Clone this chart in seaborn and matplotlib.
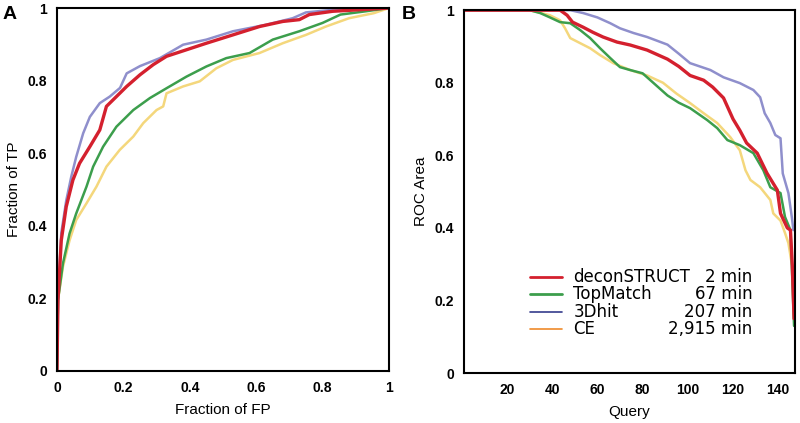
import matplotlib
matplotlib.use("Agg")
import matplotlib.pyplot as plt
import seaborn as sns
import pandas as pd
from matplotlib.ticker import FuncFormatter

sns.set_theme(style="white")
plt.rcParams['font.family'] = ['Liberation Sans', 'DejaVu Sans']
plt.rcParams['text.color'] = 'black'
plt.rcParams['axes.labelcolor'] = 'black'
plt.rcParams['xtick.color'] = 'black'
plt.rcParams['ytick.color'] = 'black'

# ---------------- Panel A data: ROC curves (fraction FP, fraction TP) -------------
fp_3dhit = [0, 0.003, 0.013, 0.028, 0.043, 0.058, 0.079, 0.099, 0.129, 0.159, 0.19, 0.21, 0.25, 0.31, 0.38, 0.45, 0.53, 0.63, 0.71, 0.75, 0.83, 1.0]
tp_3dhit = [0, 0.195, 0.38, 0.47, 0.535, 0.59, 0.655, 0.70, 0.738, 0.756, 0.78, 0.82, 0.84, 0.862, 0.899, 0.913, 0.936, 0.954, 0.972, 0.988, 0.995, 1.0]

fp_decon = [0, 0.003, 0.013, 0.028, 0.048, 0.068, 0.099, 0.129, 0.149, 0.179, 0.21, 0.25, 0.29, 0.33, 0.39, 0.45, 0.53, 0.61, 0.68, 0.73, 0.76, 0.83, 1.0]
tp_decon = [0, 0.195, 0.36, 0.453, 0.526, 0.572, 0.618, 0.664, 0.729, 0.756, 0.784, 0.816, 0.844, 0.867, 0.885, 0.903, 0.926, 0.949, 0.963, 0.968, 0.982, 0.991, 1.0]

fp_topm = [0, 0.003, 0.018, 0.038, 0.058, 0.089, 0.109, 0.139, 0.179, 0.23, 0.28, 0.33, 0.39, 0.45, 0.51, 0.58, 0.65, 0.73, 0.80, 0.854, 0.93, 1.0]
tp_topm = [0, 0.195, 0.296, 0.379, 0.434, 0.508, 0.563, 0.618, 0.673, 0.719, 0.752, 0.779, 0.811, 0.839, 0.862, 0.876, 0.913, 0.936, 0.959, 0.982, 0.991, 1.0]

fp_ce = [0, 0.003, 0.018, 0.038, 0.058, 0.089, 0.119, 0.149, 0.189, 0.23, 0.26, 0.30, 0.32, 0.33, 0.38, 0.43, 0.48, 0.53, 0.61, 0.68, 0.75, 0.81, 0.88, 0.955, 1.0]
tp_ce = [0, 0.195, 0.287, 0.36, 0.416, 0.462, 0.508, 0.563, 0.609, 0.646, 0.683, 0.719, 0.729, 0.765, 0.784, 0.798, 0.834, 0.857, 0.876, 0.903, 0.926, 0.949, 0.972, 0.986, 1.0]

# ---------------- Panel B data: sorted ROC area per query -------------
q_decon = [1, 43.5, 46.6, 49, 53.7, 58, 62.5, 68.7, 74.5, 82, 91, 96, 101, 107, 111, 115.8, 120, 123, 126, 130.7, 135, 139.6, 141, 144, 145.4, 146.2, 147]
roc_decon = [1.0, 1.0, 0.986, 0.967, 0.953, 0.939, 0.926, 0.912, 0.904, 0.89, 0.865, 0.845, 0.82, 0.807, 0.788, 0.758, 0.70, 0.669, 0.634, 0.606, 0.551, 0.504, 0.44, 0.40, 0.394, 0.30, 0.15]

q_3dhit = [1, 48, 53.7, 60, 65.7, 70, 76, 82, 91, 96, 101, 110, 115.8, 123, 129, 132, 134, 136.5, 138.7, 141, 142, 144.5, 146, 146.7]
roc_3dhit = [1.0, 1.0, 0.992, 0.98, 0.964, 0.95, 0.937, 0.926, 0.905, 0.88, 0.854, 0.835, 0.815, 0.799, 0.78, 0.76, 0.716, 0.689, 0.656, 0.647, 0.55, 0.496, 0.43, 0.394]

q_topm = [1, 30, 34.7, 39, 43.5, 48, 52.4, 56.8, 61.2, 65.7, 70, 74.5, 80, 84.7, 91, 96, 101, 108.6, 113, 117.5, 123, 129, 133.4, 136.5, 141, 143, 145.4, 147]
roc_topm = [1.0, 1.0, 0.992, 0.98, 0.967, 0.964, 0.945, 0.923, 0.895, 0.868, 0.843, 0.835, 0.826, 0.80, 0.765, 0.745, 0.73, 0.697, 0.675, 0.642, 0.628, 0.606, 0.559, 0.512, 0.496, 0.43, 0.394, 0.13]

q_ce = [1, 30, 39, 43.5, 45.7, 48, 52.4, 56.8, 61.2, 67, 74.5, 82, 89, 95, 101, 107, 113, 118.8, 123, 125.5, 127.7, 132, 136.5, 137.8, 141, 143, 144.5, 146]
roc_ce = [1.0, 1.0, 0.986, 0.972, 0.95, 0.923, 0.909, 0.895, 0.876, 0.854, 0.835, 0.82, 0.80, 0.77, 0.744, 0.716, 0.689, 0.65, 0.614, 0.559, 0.532, 0.512, 0.477, 0.44, 0.42, 0.386, 0.358, 0.30]

methods = ["deconSTRUCT", "TopMatch", "3Dhit", "CE"]
times = ["2 min", "67 min", "207 min", "2,915 min"]

line_colors = {"deconSTRUCT": "#d4202e", "TopMatch": "#3c9e4c", "3Dhit": "#8f8fcc", "CE": "#f4d77c"}
legend_colors = {"deconSTRUCT": "#d4202e", "TopMatch": "#3c9e4c", "3Dhit": "#353c8c", "CE": "#ef8a2a"}
widths = {"deconSTRUCT": 2.4, "TopMatch": 1.8, "3Dhit": 1.8, "CE": 1.8}

fig = plt.figure(figsize=(8.0, 4.23), dpi=100)
axA = fig.add_axes([0.0712, 0.123, 0.415, 0.858])
axB = fig.add_axes([0.580, 0.118, 0.414, 0.858])

rocA = {"CE": (fp_ce, tp_ce), "TopMatch": (fp_topm, tp_topm),
        "3Dhit": (fp_3dhit, tp_3dhit), "deconSTRUCT": (fp_decon, tp_decon)}
rocB = {"CE": (q_ce, roc_ce), "TopMatch": (q_topm, roc_topm),
        "3Dhit": (q_3dhit, roc_3dhit), "deconSTRUCT": (q_decon, roc_decon)}

for m in ["CE", "TopMatch", "3Dhit", "deconSTRUCT"]:
    x, y = rocA[m]
    sns.lineplot(x=x, y=y, ax=axA, color=line_colors[m], lw=widths[m],
                 estimator=None, sort=False, legend=False)
    x, y = rocB[m]
    sns.lineplot(x=x, y=y, ax=axB, color=line_colors[m], lw=widths[m],
                 estimator=None, sort=False, legend=False)

fmt = FuncFormatter(lambda v, p: f"{v:g}")

axA.set_xlim(0, 1)
axA.set_ylim(0, 1)
axA.set_xticks([0, 0.2, 0.4, 0.6, 0.8, 1])
axA.set_yticks([0, 0.2, 0.4, 0.6, 0.8, 1])
axA.set_xlabel("Fraction of FP", fontsize=11, labelpad=6)
axA.set_ylabel("Fraction of TP", fontsize=11, labelpad=5)

axB.set_xlim(1, 147.5)
axB.set_ylim(0, 1)
axB.set_xticks([20, 40, 60, 80, 100, 120, 140])
axB.set_yticks([0, 0.2, 0.4, 0.6, 0.8, 1])
axB.set_xlabel("Query", fontsize=11, labelpad=6)
axB.set_ylabel("ROC Area", fontsize=11, labelpad=5)

for ax in (axA, axB):
    ax.xaxis.set_major_formatter(fmt)
    ax.yaxis.set_major_formatter(fmt)
    ax.tick_params(axis="both", length=0, pad=7, labelsize=10, labelcolor="black")
    for lab in ax.get_xticklabels() + ax.get_yticklabels():
        lab.set_fontweight("bold")
    for s in ax.spines.values():
        s.set_color("black")
        s.set_linewidth(1.5)

# legend drawn in panel B with right-aligned run times
rows_y = [0.264, 0.218, 0.168, 0.122]
for m, t, yy in zip(methods, times, rows_y):
    axB.plot([0.2, 0.296], [yy, yy], transform=axB.transAxes,
             color=legend_colors[m], lw=2.0 if m in ("deconSTRUCT", "TopMatch") else 1.2)
    axB.text(0.33, yy, m, transform=axB.transAxes, fontsize=12,
             family="DejaVu Sans", va="center", ha="left", color="black")
    axB.text(0.87, yy, t, transform=axB.transAxes, fontsize=12,
             family="DejaVu Sans", va="center", ha="right", color="black")

fig.text(0.003, 0.965, "A", fontsize=14, fontweight="bold", va="center", ha="left", color="black")
fig.text(0.502, 0.965, "B", fontsize=14, fontweight="bold", va="center", ha="left", color="black")

fig.savefig("out.png", dpi=100)
